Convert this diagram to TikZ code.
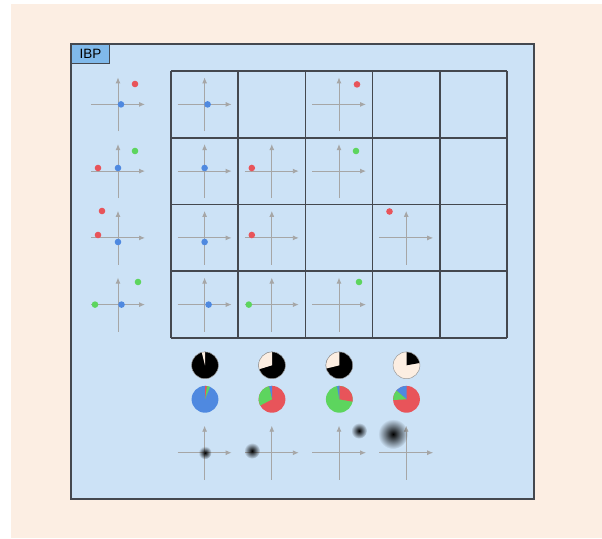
\documentclass[tikz,border=0pt]{standalone}
\usepackage{fontspec}
\setmainfont{Liberation Sans}
\usepackage{tikz}
\usetikzlibrary{
  arrows.meta,
  fadings
}
\definecolor{peach}{HTML}{FCEEE3}
\definecolor{panelblue}{HTML}{CCE2F6}
\definecolor{tagblue}{HTML}{80B9EA}
\definecolor{framegray}{HTML}{44484F}
\definecolor{axisgray}{HTML}{A6A6A6}
\definecolor{ptblue}{HTML}{4F89E0}
\definecolor{ptred}{HTML}{E8545A}
\definecolor{ptgreen}{HTML}{5DD55E}
\definecolor{cream}{HTML}{FCEEE2}
\tikzset{>={Latex[length=6pt,width=5pt]}}
\tikzset{
  axisline/.style={draw=axisgray,line width=0.9pt},
  gridline/.style={draw=framegray,line width=1.6pt},
  piebound/.style={draw=gray!80,line width=0.5pt},
  tagbox/.style={draw=framegray,fill=tagblue,line width=1.2pt,anchor=north west,
    minimum width=38pt,minimum height=19pt,inner sep=0pt,font=\fontsize{13.5}{13.5}\selectfont}
}
\tikzfading[name=blobfade, inner color=transparent!0, outer color=transparent!100]
\newcommand{\miniaxes}[2]{%
  \draw[axisline,->] (#1-27,#2)--(#1+27,#2);
  \draw[axisline,->] (#1,#2+27)--(#1,#2-27);}
\newcommand{\dotat}[3]{\fill[#1] (#2,#3) circle (3.3pt);}
\newcommand{\piepart}[5]{\fill[#1] (#2,#3)--++(#4:13.4pt) arc[start angle=#4,end angle=#5,radius=13.4pt]--cycle;}

\begin{document}
\begin{tikzpicture}[x=1pt,y=-1pt]
	\useasboundingbox (0,0) rectangle (602,538);
	\fill[peach] (11,4) rectangle (602,538);
	\draw[draw=framegray,fill=panelblue,line width=1.2pt] (71,44) rectangle (534,499);
	\node[tagbox] (ibp) at (71,44) {IBP};
	% grid
	\foreach \i in {0,...,5}
		\draw[gridline] (171+67.2*\i,71)--(171+67.2*\i,338);
	\foreach \j in {0,...,4}
		\draw[gridline] (171,71+66.75*\j)--(507,71+66.75*\j);
	% row 1
	\miniaxes{118}{104.4}
	\dotat{ptblue}{121}{104.4} \dotat{ptred}{135}{84}
	\miniaxes{204.6}{104.4} \dotat{ptblue}{207.6}{104.4}
	\miniaxes{339}{104.4} \dotat{ptred}{357}{84.4}
	% row 2
	\miniaxes{118}{171.1}
	\dotat{ptred}{98}{168} \dotat{ptblue}{118}{168} \dotat{ptgreen}{135}{151}
	\miniaxes{204.6}{171.1} \dotat{ptblue}{204.6}{168}
	\miniaxes{271.8}{171.1} \dotat{ptred}{251.8}{168}
	\miniaxes{339}{171.1} \dotat{ptgreen}{356}{151}
	% row 3
	\miniaxes{118}{237.9}
	\dotat{ptred}{102}{211} \dotat{ptred}{98}{235} \dotat{ptblue}{118}{242}
	\miniaxes{204.6}{237.9} \dotat{ptblue}{204.6}{242}
	\miniaxes{271.8}{237.9} \dotat{ptred}{251.8}{235}
	\miniaxes{406.2}{237.9} \dotat{ptred}{389.5}{211.5}
	% row 4
	\miniaxes{118}{304.6}
	\dotat{ptgreen}{95}{304.6} \dotat{ptblue}{121.5}{304.6} \dotat{ptgreen}{138}{282}
	\miniaxes{204.6}{304.6} \dotat{ptblue}{208.6}{304.6}
	\miniaxes{271.8}{304.6} \dotat{ptgreen}{248.8}{304.6}
	\miniaxes{339}{304.6} \dotat{ptgreen}{359}{282}
	% pies
	\fill[black] (205,365.3) circle (13.4pt);
	\piepart{cream}{205}{365.3}{90}{104}
	\fill[black] (272,365.3) circle (13.4pt);
	\piepart{cream}{272}{365.3}{90}{197}
	\fill[black] (339.3,365.3) circle (13.4pt);
	\piepart{cream}{339.3}{365.3}{90}{194}
	\fill[cream] (406.5,365.3) circle (13.4pt);
	\piepart{black}{406.5}{365.3}{10}{90}
	\foreach \px in {205,272,339.3,406.5}
		\draw[piebound] (\px,365.3) circle (13.4pt);
	\fill[ptblue] (205,399.3) circle (13.4pt);
	\piepart{ptgreen}{205}{399.3}{68}{82}
	\piepart{ptred}{205}{399.3}{82}{90}
	\fill[ptred] (272,399.3) circle (13.4pt);
	\piepart{ptblue}{272}{399.3}{90}{103}
	\piepart{ptgreen}{272}{399.3}{103}{208}
	\fill[ptgreen] (339.3,399.3) circle (13.4pt);
	\piepart{ptred}{339.3}{399.3}{-10}{90}
	\piepart{ptblue}{339.3}{399.3}{90}{100}
	\fill[ptred] (406.5,399.3) circle (13.4pt);
	\piepart{ptblue}{406.5}{399.3}{90}{139}
	\piepart{ptgreen}{406.5}{399.3}{139}{183}
	% blobs
	\miniaxes{204.6}{452.7}
	\miniaxes{271.8}{452.7}
	\miniaxes{339}{452.7}
	\miniaxes{406.2}{452.7}
	\fill[black,path fading=blobfade] (205,452.7) circle (6.5pt);
	\fill[black,path fading=blobfade] (252,450.7) circle (8pt);
	\fill[black,path fading=blobfade] (359,430.7) circle (8pt);
	\fill[black,path fading=blobfade] (393,434) circle (15pt);
\end{tikzpicture}
\end{document}
